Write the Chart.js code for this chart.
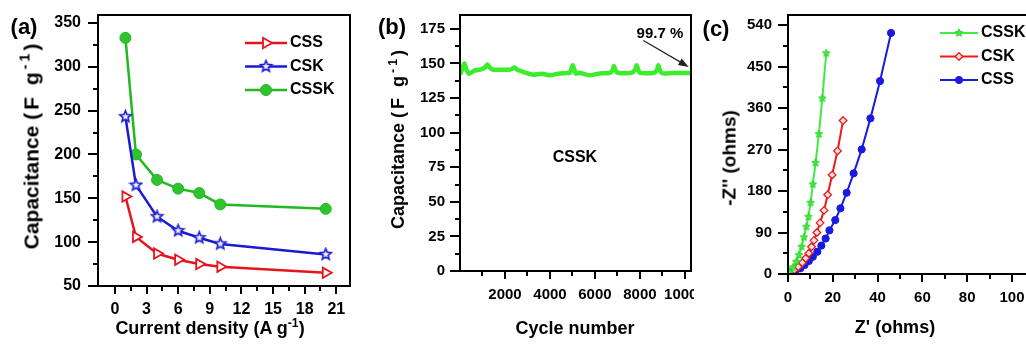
<!DOCTYPE html>
<html>
<head>
<meta charset="utf-8">
<script src="https://cdn.jsdelivr.net/npm/chart.js@4/dist/chart.umd.min.js"></script>
<style>
html, body { margin: 0; padding: 0; width: 1026px; height: 362px; overflow: hidden; background: #fff; }
body { position: relative; font-family: "Liberation Sans", Arial, sans-serif; font-weight: bold; color: #000; }
.panel { position: absolute; top: 0; height: 362px; background: #fff; }
.panel canvas { display: block; }
.txt { position: absolute; white-space: nowrap; line-height: 1; transform: translate(-50%, -50%); }
.rot { transform: translate(-50%, -50%) rotate(-90deg); }
.sp { letter-spacing: 3px; }
sup { font-size: 0.68em; vertical-align: 0.6em; line-height: 0; }
</style>
</head>
<body>
<div class="panel" style="left:0;width:360px"><canvas id="chartA" width="360" height="362"></canvas></div>
<div class="panel" style="left:360px;width:334px"><canvas id="chartB" width="334" height="362"></canvas></div>
<div class="panel" style="left:694px;width:360px"><canvas id="chartC" width="360" height="362"></canvas></div>

<div class="txt" style="left:24px;top:27px;font-size:22px">(a)</div>
<div class="txt" style="left:392px;top:27px;font-size:22px">(b)</div>
<div class="txt" style="left:716px;top:29px;font-size:22px">(c)</div>

<div class="txt rot" style="left:31px;top:145px;font-size:21px">Capacitance <span class="sp">(F g<sup>-1</sup>)</span></div>
<div class="txt rot" style="left:398px;top:138px;font-size:18px">Capacitance <span class="sp">(F g<sup>-1</sup>)</span></div>
<div class="txt rot" style="left:729px;top:158px;font-size:19px">-Z'' (ohms)</div>

<div class="txt" style="left:210px;top:328px;font-size:18px">Current density (A g<sup>-1</sup>)</div>
<div class="txt" style="left:575px;top:328px;font-size:18px">Cycle number</div>
<div class="txt" style="left:895px;top:327px;font-size:18px">Z' (ohms)</div>

<script>
// (a) rate capability
const currentDensity = [1, 2, 4, 6, 8, 10, 20];
const capCSS = [152, 106, 87, 80, 75, 72, 65];
const capCSK = [243, 165, 129, 113, 105, 98, 86];
const capCSSK = [333, 200, 171, 161, 156, 143, 138];
const ticksAx = [0, 3, 6, 9, 12, 15, 18, 21];
const ticksAy = [50, 100, 150, 200, 250, 300, 350];

// (b) cycling of CSSK
const cycleNumber = [0, 100, 190, 300, 400, 670, 900, 1100, 1215, 1330, 1450, 1800, 2200, 2300, 2420, 2550,
  2700, 2960, 3260, 3630, 4000, 4370, 4740, 4890, 4950, 5010, 5080, 5150, 5260, 5480, 5780, 6150, 6670,
  6780, 6840, 6910, 7000, 7630, 7780, 7850, 7920, 8000, 8640, 8760, 8820, 8880, 8970, 9500, 10270];
const cycleCap = [142, 146, 150, 145, 142.6, 145, 145.5, 147, 149.3, 147, 145.5, 145.5, 145.5, 146, 147, 145.5,
  144.5, 143, 141.9, 142.6, 141.4, 142.6, 143, 143.3, 146, 148.6, 146, 142.6, 143.3, 142.6, 141.4, 142.6, 143.3,
  145, 148.1, 145.5, 143.3, 143.3, 145.5, 148.6, 145.5, 143.3, 143.3, 145.5, 148.6, 145.5, 143, 143, 143];
const ticksBx = [2000, 4000, 6000, 8000, 10000];
const ticksBy = [0, 25, 50, 75, 100, 125, 150, 175];
const retentionText = "99.7 %";
const sampleText = "CSSK";

// (c) Nyquist plots
const reCSSK = [0.5, 0.8, 2.2, 3.7, 4.9, 6.1, 7.1, 8.2, 9.1, 10.1, 11.1, 12.3, 13.8, 15.3, 17.1];
const imCSSK = [1, 5, 14.5, 26.7, 41, 59, 79.6, 102.6, 124, 154.6, 194.5, 241, 303.6, 381, 479];
const reCSK = [0.8, 2.8, 4.6, 6.4, 7.9, 9.3, 10.5, 11.6, 12.9, 14.3, 16.1, 17.7, 19.7, 22.1, 24.6];
const imCSK = [3.7, 8.7, 15.8, 24.5, 34, 45, 59, 73, 90, 111, 138, 172, 215, 267, 333];
const reCSS = [0.5, 1.5, 3.4, 5.5, 7.4, 9.3, 11.1, 13.1, 14.9, 16.8, 18.5, 21.1, 23.4, 26.2, 29.3, 32.9, 36.8, 41.1, 46];
const imCSS = [1, 3.7, 7.2, 12.4, 19.5, 28.2, 37.5, 48.4, 61.7, 77, 94.7, 117, 142.5, 176.3, 218.4, 270.4, 337.7, 418.6, 523];
const ticksCx = [0, 20, 40, 60, 80, 100];
const ticksCy = [0, 90, 180, 270, 360, 450, 540];

const FONT = "'Liberation Sans', Arial, sans-serif";

function starImage(size, fill, stroke, lw) {
  const c = document.createElement("canvas");
  c.width = c.height = size;
  const g = c.getContext("2d");
  const m = size / 2, R = m - lw, r = R * 0.45;
  g.beginPath();
  for (let k = 0; k < 10; k++) {
    const ang = -Math.PI / 2 + k * Math.PI / 5;
    const rad = k % 2 ? r : R;
    g.lineTo(m + rad * Math.cos(ang), m + rad * Math.sin(ang));
  }
  g.closePath();
  g.fillStyle = fill;
  g.fill();
  g.strokeStyle = stroke;
  g.lineWidth = lw;
  g.stroke();
  return c;
}

const pairs = (xs, ys) => xs.map((x, i) => ({ x: x, y: ys[i] }));
const isMajor = (majors, v) => majors.some((m) => Math.abs(m - v) < 1e-6);

// labelled ticks plus one unlabelled tick half way between them
function tickSet(majors, min, max) {
  const step = majors[1] - majors[0];
  const out = majors.map((v) => ({ value: v }));
  const minors = majors.map((v) => v - step / 2).concat([majors[majors.length - 1] + step / 2]);
  minors.forEach((v) => {
    if (v >= min + step / 4 && v <= max) out.push({ value: v });
  });
  return out.sort((p, q) => p.value - q.value);
}

// box around the plot + major/minor tick marks
const frame = {
  id: "frame",
  afterDraw(chart) {
    const { ctx, chartArea: a, scales } = chart;
    ctx.save();
    ctx.strokeStyle = "#000";
    ctx.lineWidth = 2;
    ctx.strokeRect(a.left, a.top, a.right - a.left, a.bottom - a.top);
    ctx.beginPath();
    scales.x.ticks.forEach((t) => {
      const px = Math.round(scales.x.getPixelForValue(t.value));
      const len = t.label !== "" ? 8 : 5;
      ctx.moveTo(px, a.bottom);
      ctx.lineTo(px, a.bottom + len);
    });
    ctx.stroke();
    ctx.beginPath();
    scales.y.ticks.forEach((t) => {
      const py = Math.round(scales.y.getPixelForValue(t.value));
      const len = t.label !== "" ? 10 : 5;
      ctx.moveTo(a.left, py);
      ctx.lineTo(a.left - len, py);
    });
    ctx.stroke();
    ctx.restore();
  }
};

// legend drawn inside the plot box
const innerLegend = {
  id: "innerLegend",
  afterDraw(chart, args, o) {
    if (!o || o.x === undefined) return;
    const ctx = chart.ctx;
    chart.data.datasets.forEach((ds, i) => {
      const y = o.y + i * o.row;
      ctx.save();
      ctx.strokeStyle = ds.borderColor;
      ctx.lineWidth = ds.borderWidth;
      ctx.beginPath();
      ctx.moveTo(o.x, y);
      ctx.lineTo(o.x + o.len, y);
      ctx.stroke();
      ctx.fillStyle = ds.pointBackgroundColor;
      ctx.strokeStyle = ds.pointBorderColor;
      ctx.lineWidth = ds.pointBorderWidth;
      Chart.helpers.drawPoint(ctx, {
        pointStyle: ds.pointStyle, rotation: ds.pointRotation || 0,
        radius: ds.pointRadius, borderWidth: ds.pointBorderWidth
      }, o.x + o.len / 2, y);
      ctx.fillStyle = "#000";
      ctx.font = "bold " + o.size + "px " + FONT;
      ctx.textBaseline = "middle";
      ctx.textAlign = "left";
      ctx.fillText(ds.label, o.x + o.len + 3, y);
      ctx.restore();
    });
  }
};

// text and arrow annotations given in data units
const notes = {
  id: "notes",
  afterDraw(chart, args, o) {
    if (!o || !o.items) return;
    const { ctx, scales } = chart;
    ctx.save();
    o.items.forEach((it) => {
      if (it.text) {
        ctx.fillStyle = "#000";
        ctx.font = "bold " + it.size + "px " + FONT;
        ctx.textAlign = "center";
        ctx.textBaseline = "middle";
        ctx.fillText(it.text, scales.x.getPixelForValue(it.x), scales.y.getPixelForValue(it.y));
      } else {
        const x0 = scales.x.getPixelForValue(it.from[0]), y0 = scales.y.getPixelForValue(it.from[1]);
        const x1 = scales.x.getPixelForValue(it.to[0]), y1 = scales.y.getPixelForValue(it.to[1]);
        const ang = Math.atan2(y1 - y0, x1 - x0);
        ctx.strokeStyle = "#222";
        ctx.fillStyle = "#222";
        ctx.lineWidth = 1.2;
        ctx.beginPath();
        ctx.moveTo(x0, y0);
        ctx.lineTo(x1 - 6 * Math.cos(ang), y1 - 6 * Math.sin(ang));
        ctx.stroke();
        ctx.beginPath();
        ctx.moveTo(x1, y1);
        ctx.lineTo(x1 - 11 * Math.cos(ang - 0.35), y1 - 11 * Math.sin(ang - 0.35));
        ctx.lineTo(x1 - 11 * Math.cos(ang + 0.35), y1 - 11 * Math.sin(ang + 0.35));
        ctx.closePath();
        ctx.fill();
      }
    });
    ctx.restore();
  }
};

function linearAxis(cfg) {
  return {
    type: "linear",
    min: cfg.min,
    max: cfg.max,
    grid: { display: false, drawTicks: false },
    border: { display: false },
    ticks: {
      autoSkip: false,
      maxRotation: 0,
      padding: cfg.pad,
      color: "#000",
      font: { family: FONT, size: cfg.font, weight: "bold" },
      callback: (v) => (isMajor(cfg.majors, v) ? String(v) : "")
    },
    afterBuildTicks: (s) => { s.ticks = tickSet(cfg.majors, cfg.min, cfg.max); },
    afterFit: (s) => {
      if (cfg.horizontal) s.height = cfg.size; else s.width = cfg.size;
      s.paddingLeft = s.paddingRight = s.paddingTop = s.paddingBottom = 0;
    }
  };
}

const common = {
  responsive: false,
  animation: false,
  plugins: { legend: { display: false }, tooltip: { enabled: false } }
};

// ---- (a)
new Chart(document.getElementById("chartA"), {
  type: "line",
  data: {
    datasets: [
      {
        label: "CSS", data: pairs(currentDensity, capCSS),
        borderColor: "#e8141c", borderWidth: 2.5,
        pointStyle: "triangle", pointRotation: 90, pointRadius: 6,
        pointBackgroundColor: "#fff", pointBorderColor: "#e8141c", pointBorderWidth: 1.8
      },
      {
        label: "CSK", data: pairs(currentDensity, capCSK),
        borderColor: "#1a1ad6", borderWidth: 2.5,
        pointStyle: starImage(15, "#eef", "#1a1ad6", 1.6), pointRadius: 6,
        pointBackgroundColor: "#fff", pointBorderColor: "#1a1ad6", pointBorderWidth: 1.6
      },
      {
        label: "CSSK", data: pairs(currentDensity, capCSSK),
        borderColor: "#22b822", borderWidth: 2.5,
        pointStyle: "circle", pointRadius: 5.5,
        pointBackgroundColor: "#2fc42f", pointBorderColor: "#22b822", pointBorderWidth: 1
      }
    ]
  },
  options: Object.assign({}, common, {
    layout: { padding: { left: 0, top: 15, right: 10, bottom: 0 } },
    plugins: Object.assign({}, common.plugins, {
      innerLegend: { x: 245, y: 43, row: 23.5, len: 42, size: 16 }
    }),
    scales: {
      x: linearAxis({ min: -1.6, max: 22.3, majors: ticksAx, pad: 14, font: 16, size: 76, horizontal: true }),
      y: linearAxis({ min: 50, max: 359, majors: ticksAy, pad: 17, font: 16, size: 98 })
    }
  }),
  plugins: [frame, innerLegend]
});

// ---- (b)
new Chart(document.getElementById("chartB"), {
  type: "line",
  data: {
    datasets: [{
      label: "CSSK", data: pairs(cycleNumber, cycleCap),
      borderColor: "#3aee2c", borderWidth: 4.5, pointRadius: 0, tension: 0.25
    }]
  },
  options: Object.assign({}, common, {
    layout: { padding: { left: 0, top: 15, right: 3, bottom: 0 } },
    plugins: Object.assign({}, common.plugins, {
      notes: { items: [
        { text: retentionText, x: 8890, y: 171.5, size: 15 },
        { from: [8150, 166.5], to: [10170, 147.5] },
        { text: sampleText, x: 5110, y: 82, size: 16 }
      ] }
    }),
    scales: {
      x: linearAxis({ min: 0, max: 10270, majors: ticksBx, pad: 15, font: 15, size: 91, horizontal: true }),
      y: linearAxis({ min: 0, max: 185, majors: ticksBy, pad: 15, font: 15, size: 100 })
    }
  }),
  plugins: [frame, notes]
});

// ---- (c)
new Chart(document.getElementById("chartC"), {
  type: "line",
  data: {
    datasets: [
      {
        label: "CSSK", data: pairs(reCSSK, imCSSK),
        borderColor: "#40ea40", borderWidth: 2,
        pointStyle: starImage(10, "#40ea40", "#2fd02f", 1), pointRadius: 4,
        pointBackgroundColor: "#40ea40", pointBorderColor: "#2fd02f", pointBorderWidth: 1
      },
      {
        label: "CSK", data: pairs(reCSK, imCSK),
        borderColor: "#ec1c1c", borderWidth: 2,
        pointStyle: "rectRot", pointRadius: 3.8,
        pointBackgroundColor: "#fbe0e0", pointBorderColor: "#ec1c1c", pointBorderWidth: 1.3
      },
      {
        label: "CSS", data: pairs(reCSS, imCSS),
        borderColor: "#1a1ae0", borderWidth: 2,
        pointStyle: "circle", pointRadius: 3.6,
        pointBackgroundColor: "#1a1ae0", pointBorderColor: "#1a1ae0", pointBorderWidth: 1
      }
    ]
  },
  options: Object.assign({}, common, {
    layout: { padding: { left: 0, top: 15, right: 4, bottom: 0 } },
    plugins: Object.assign({}, common.plugins, {
      innerLegend: { x: 246, y: 33, row: 23.5, len: 38, size: 16 }
    }),
    scales: {
      x: linearAxis({ min: 0, max: 116.4, majors: ticksCx, pad: 15, font: 15, size: 88, horizontal: true }),
      y: linearAxis({ min: 0, max: 562, majors: ticksCy, pad: 16, font: 15, size: 94 })
    }
  }),
  plugins: [frame, innerLegend]
});
</script>
</body>
</html>
